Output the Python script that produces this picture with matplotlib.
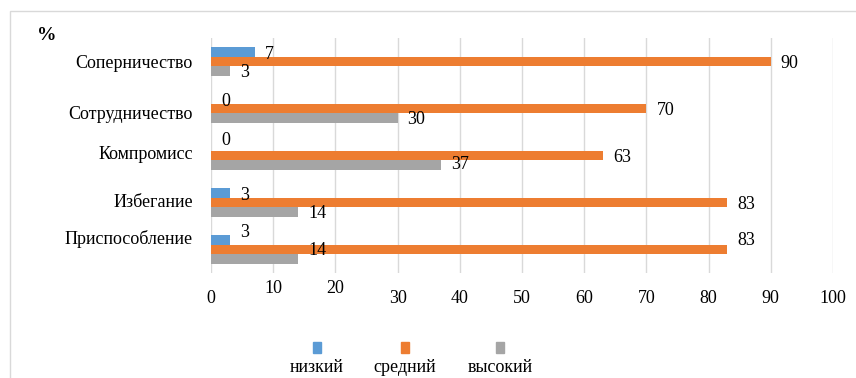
import matplotlib.pyplot as plt
import matplotlib.transforms as mtransforms
from matplotlib.patches import Rectangle
import numpy as np

plt.rcParams['font.family'] = ['Liberation Serif', 'DejaVu Serif']
plt.rcParams['font.size'] = 13

categories = ['Соперничество', 'Сотрудничество', 'Компромисс', 'Избегание', 'Приспособление']
series_names = ['низкий', 'средний', 'высокий']
low = [7, 0, 0, 3, 3]
mid = [90, 70, 63, 83, 83]
high = [3, 30, 37, 14, 14]
x_ticks = [0, 10, 20, 30, 40, 50, 60, 70, 80, 90, 100]

colors = ['#5B9BD5', '#ED7D31', '#A5A5A5']
# manual vertical nudges (pixels, up) of the data labels, as in the source
label_dy = [[0, 0, 8, 0, 10],
            [0, 0, 0, 0, 11],
            [0, 0, 2, 0, 10]]
cat_dy = [0, -4, 3, 2, 12]

W, H = 856, 378
fig = plt.figure(figsize=(W / 100, H / 100), dpi=100)
ax = fig.add_axes([211 / W, 1 - 273 / H, (833 - 211) / W, (273 - 38) / H])

y = np.arange(len(categories))
h = 0.2
for i, vals in enumerate([low, mid, high]):
    pos = y + (i - 1) * h
    ax.barh(pos, vals, height=h, color=colors[i], zorder=3)
    for j, v in enumerate(vals):
        ax.annotate(str(v), (v, pos[j]), xytext=(10, label_dy[i][j]),
                    textcoords='offset pixels', ha='left', va='center_baseline',
                    fontsize=13, zorder=4)

ax.set_xlim(0, 100)
ax.set_ylim(len(categories) - 0.5, -0.5)
ax.set_xticks(x_ticks)
ax.set_yticks(y)
ax.set_yticklabels(categories)
ax.tick_params(axis='both', length=0, labelsize=13)
ax.tick_params(axis='y', pad=13)
ax.tick_params(axis='x', pad=12)
ax.grid(axis='x', color='#d9d9d9', linewidth=1, zorder=0)
for s in ax.spines.values():
    s.set_visible(False)

# the 10 and 20 tick labels sit a bit higher in the source
for lab in ax.get_xticklabels():
    if lab.get_text() in ('10', '20'):
        lab.set_transform(lab.get_transform() +
                          mtransforms.ScaledTranslation(0, 10 / 100, fig.dpi_scale_trans))
for k, lab in enumerate(ax.get_yticklabels()):
    lab.set_transform(lab.get_transform() +
                      mtransforms.ScaledTranslation(0, cat_dy[k] / 100, fig.dpi_scale_trans))

fig.text(47 / W, 1 - 36 / H, '%', ha='center', va='center', fontsize=14, fontweight='bold')

# legend: small squares above the names
leg_x = [317, 405, 500]
for k, name in enumerate(series_names):
    fig.patches.append(Rectangle(((leg_x[k] - 4) / W, 1 - 353 / H), 8 / W, 11 / H,
                                 transform=fig.transFigure, color=colors[k]))
    fig.text(leg_x[k] / W, 1 - 367 / H, name, ha='center', va='center', fontsize=13)

fig.patches.append(Rectangle((10 / W, -0.1), 1.2, 1 - 11 / H + 0.1, transform=fig.transFigure,
                             fill=False, edgecolor='#d9d9d9', linewidth=1))

fig.savefig('out.png', dpi=100)
